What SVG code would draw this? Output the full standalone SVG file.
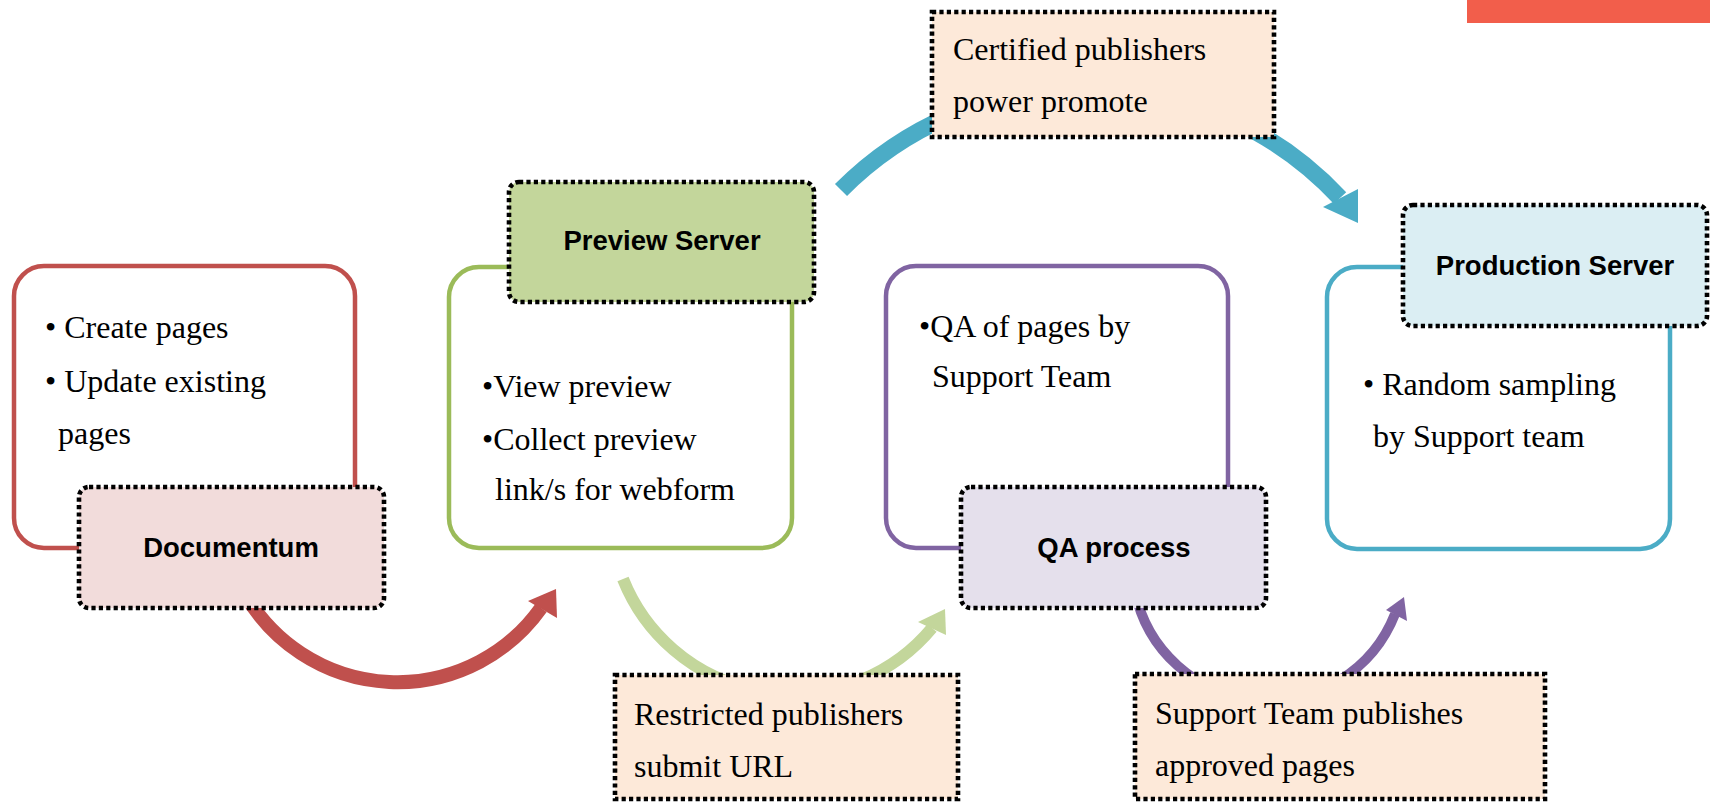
<svg xmlns="http://www.w3.org/2000/svg" width="1710" height="802" viewBox="0 0 1710 802">
  <style>
    .body { font-family: "Liberation Serif", "Times New Roman", serif; font-size: 32px; fill: #000; }
    .label { font-family: "Liberation Sans", Arial, sans-serif; font-size: 27.5px; font-weight: bold; fill: #000; text-anchor: middle; }
    .frame { fill: #fff; stroke-width: 4.5; }
    .tag { stroke: #000; stroke-width: 4.6; stroke-dasharray: 4.2 3.2; }
    .note { fill: #FDE9D9; stroke: #000; stroke-width: 4.6; stroke-dasharray: 4.2 3.2; }
    .arc { fill: none; stroke-linecap: butt; }
  </style>

  <rect x="0" y="0" width="1710" height="802" fill="#fff"/>
  <!-- accent bar -->
  <rect x="1467" y="0" width="243" height="23" fill="#F25E4B"/>

  <!-- curved connectors -->
  <g id="connectors">
    <path class="arc" d="M 245 594 A 176 176 0 0 0 541 608" stroke="#C0504D" stroke-width="14"/>
    <polygon points="556,589 528,601 557,618" fill="#C0504D"/>

    <path class="arc" d="M 623 579 A 182 182 0 0 0 932 628" stroke="#C3D69B" stroke-width="12"/>
    <polygon points="945,609 918,622 946,635" fill="#C3D69B"/>

    <path class="arc" d="M 841 190 A 346 346 0 0 1 1340 198" stroke="#4BACC6" stroke-width="17"/>
    <polygon points="1358,223 1323,207 1358,189" fill="#4BACC6"/>

    <path class="arc" d="M 1135 591 A 136 136 0 0 0 1395 614" stroke="#8064A2" stroke-width="10"/>
    <polygon points="1404,597 1386,610 1407,621" fill="#8064A2"/>
  </g>

  <!-- Documentum -->
  <g id="documentum">
    <rect class="frame" x="14" y="266" width="341" height="282" rx="30" stroke="#C0504D"/>
    <text class="body" x="45" y="338">• Create pages</text>
    <text class="body" x="45" y="392">• Update existing</text>
    <text class="body" x="58" y="444">pages</text>
    <rect class="tag" x="79" y="487" width="305" height="121" rx="10" fill="#F2DCDB"/>
    <text class="label" x="231" y="557">Documentum</text>
  </g>

  <!-- Preview Server -->
  <g id="preview-server">
    <rect class="frame" x="449" y="267" width="343" height="281" rx="30" stroke="#9BBB59"/>
    <text class="body" x="482" y="397">•View preview</text>
    <text class="body" x="482" y="450">•Collect preview</text>
    <text class="body" x="495" y="500">link/s for webform</text>
    <rect class="tag" x="509" y="182" width="305" height="120" rx="10" fill="#C3D69B"/>
    <text class="label" x="662" y="250">Preview Server</text>
  </g>

  <!-- QA process -->
  <g id="qa-process">
    <rect class="frame" x="886" y="266" width="342" height="282" rx="30" stroke="#8064A2"/>
    <text class="body" x="919" y="337">•QA of pages by</text>
    <text class="body" x="932" y="387">Support Team</text>
    <rect class="tag" x="961" y="487" width="305" height="121" rx="10" fill="#E5E0EC"/>
    <text class="label" x="1114" y="557">QA process</text>
  </g>

  <!-- Production Server -->
  <g id="production-server">
    <rect class="frame" x="1327" y="267" width="343" height="282" rx="30" stroke="#4BACC6"/>
    <text class="body" x="1363" y="395">• Random sampling</text>
    <text class="body" x="1373" y="447">by Support team</text>
    <rect class="tag" x="1403" y="205" width="304" height="121" rx="10" fill="#DBEEF3"/>
    <text class="label" x="1555" y="275">Production Server</text>
  </g>

  <!-- transition notes -->
  <g id="note-certified">
    <rect class="note" x="932" y="12" width="342" height="125"/>
    <text class="body" x="953" y="60">Certified publishers</text>
    <text class="body" x="953" y="112">power promote</text>
  </g>

  <g id="note-restricted">
    <rect class="note" x="615" y="675" width="343" height="124"/>
    <text class="body" x="634" y="725">Restricted publishers</text>
    <text class="body" x="634" y="777">submit URL</text>
  </g>

  <g id="note-support">
    <rect class="note" x="1135" y="674" width="410" height="125"/>
    <text class="body" x="1155" y="724">Support Team publishes</text>
    <text class="body" x="1155" y="776">approved pages</text>
  </g>
</svg>
